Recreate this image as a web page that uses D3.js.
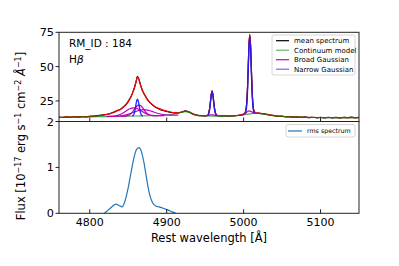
<!DOCTYPE html>
<html>
<head>
<meta charset="utf-8">
<script src="https://cdn.jsdelivr.net/npm/d3@7"></script>
<style>
  body { margin: 0; background: #fff; }
  svg { display: block; font-family: "DejaVu Sans", sans-serif; }
</style>
</head>
<body>
<div id="chart"></div>
<script>
// wavelength ticks and y ticks
const xTicks = [4800, 4900, 5000, 5100];
const topYTicks = [25, 50, 75];
const bottomYTicks = [0, 1, 2];

// [rest wavelength, flux]
const meanSpectrum = [
  [4760,13.3],[4765,12.9],[4770,13.4],[4775,13.1],[4780,13.5],[4785,13.2],[4790,13.6],[4795,13.4],
  [4800,13.8],[4805,13.9],[4810,14.3],[4815,14.6],[4820,15.0],[4825,15.6],[4830,16.6],[4835,17.8],
  [4840,19.0],[4844,20.8],[4848,23.0],[4851,25.6],[4854,28.6],[4856,31.4],[4858,34.6],[4860,38.6],
  [4862,42.9],[4864,40.5],[4866,36.5],[4868,33.2],[4870,30.8],[4873,27.8],[4876,25.2],[4880,22.8],
  [4885,20.6],[4890,19.2],[4895,18.1],[4900,17.4],[4905,16.7],[4910,16.2],[4915,16.3],[4920,16.9],
  [4924,17.7],[4928,17.2],[4932,16.0],[4936,15.0],[4940,14.5],[4945,14.2],[4950,14.1],[4953,14.4],
  [4955,17.0],[4956,20.3],[4957,25.1],[4958,29.9],[4959,32.3],[4960,29.9],[4961,25.1],[4962,20.3],
  [4963,17.0],[4964,15.4],[4966,14.4],[4970,14.0],[4975,14.2],[4980,13.9],[4985,14.1],[4990,14.3],
  [4995,14.6],[4999,15.2],[5001,15.8],[5002,16.4],[5003,18.6],[5004,23.3],[5005,33.5],[5006,49.6],
  [5007,66.3],[5008,73.4],[5009,66.2],[5010,49.5],[5011,33.4],[5012,23.2],[5013,18.6],[5014,17.2],
  [5016,16.2],[5020,16.1],[5025,15.7],[5030,15.2],[5035,14.5],[5040,14.3],[5045,13.8],[5050,13.9],
  [5055,13.4],[5060,13.6],[5065,13.2],[5070,13.4],[5075,13.0],[5080,13.3],[5085,12.8],[5090,13.1],
  [5095,12.7],[5100,13.0],[5105,12.6],[5110,13.1],[5115,12.7],[5120,13.0],[5125,12.6],[5130,13.1],
  [5135,12.8],[5140,13.2],[5145,12.7],[5150,13.0]
];

const totalModel = [
  [4760,13.1],[4780,13.3],[4800,13.7],[4810,14.2],[4820,14.9],[4825,15.5],[4830,16.4],[4835,17.6],
  [4840,18.9],[4844,20.6],[4848,22.8],[4851,25.4],[4854,28.5],[4856,31.2],[4858,34.4],[4860,38.4],
  [4862,42.3],[4864,40.6],[4866,36.6],[4868,33.3],[4870,30.8],[4873,27.9],[4876,25.3],[4880,22.9],
  [4885,20.8],[4890,19.4],[4895,18.3],[4900,17.6],[4905,16.9],[4910,16.4],[4915,16.4],[4920,16.9],
  [4924,17.6],[4928,17.1],[4932,16.0],[4936,15.0],[4940,14.5],[4945,14.2],[4950,14.1],[4953,14.4],
  [4955,17.0],[4956,20.3],[4957,25.1],[4958,29.9],[4959,32.3],[4960,29.9],[4961,25.1],[4962,20.3],
  [4963,17.0],[4964,15.4],[4966,14.4],[4970,14.1],[4980,14.0],[4990,14.3],[4995,14.6],[4999,15.2],
  [5001,15.8],[5002,16.4],[5003,18.6],[5004,23.3],[5005,33.5],[5006,49.6],[5007,66.3],[5008,73.5],
  [5009,66.2],[5010,49.5],[5011,33.4],[5012,23.2],[5013,18.6],[5014,17.2],[5016,16.2],[5020,16.0],
  [5025,15.7],[5030,15.2],[5040,14.3],[5050,13.7],[5060,13.4],[5080,13.1],[5100,12.9],[5120,12.8],
  [5150,12.8]
];

const continuumModel = [
  [4760,13.0],[4780,13.2],[4800,13.4],[4820,13.6],[4840,13.8],[4860,14.0],[4880,14.2],[4895,14.5],
  [4905,15.0],[4912,15.8],[4918,16.6],[4924,17.2],[4930,16.6],[4936,15.3],[4942,14.4],[4950,14.0],
  [4965,13.9],[4980,13.9],[4992,14.2],[5000,14.8],[5008,15.6],[5016,16.0],[5024,15.6],[5032,14.8],
  [5042,14.0],[5055,13.5],[5070,13.2],[5090,12.9],[5110,12.8],[5130,12.7],[5150,12.8]
];

const broadGaussian1 = [
  [4840,13.85],[4846,13.95],[4849,14.3],[4852,15.0],[4855,16.6],[4858,18.9],[4861,21.1],[4864,22.0],
  [4867,21.1],[4870,18.95],[4873,16.75],[4876,15.25],[4879,14.55],[4882,14.3],[4888,14.25]
];
const broadGaussian2 = [
  [4822,13.6],[4827,13.7],[4832,14.0],[4837,14.6],[4842,15.8],[4847,17.55],[4852,19.25],[4857,20.0],
  [4862,19.3],[4867,17.7],[4872,16.05],[4877,14.95],[4882,14.45],[4887,14.3],[4897,14.3]
];
const broadGaussian3 = [
  [4825,13.7],[4831,13.8],[4837.5,13.95],[4844,14.45],[4850.5,15.35],[4857,16.7],[4863.5,18.0],[4870,18.6],
  [4876.5,18.1],[4883,16.95],[4889.5,15.8],[4896,15.0],[4902.5,14.7],[4909,14.6],[4915,14.6]
];
const broadOIII4959 = [
  [4950,14.1],[4952,14.2],[4954,14.5],[4956,14.8],[4958,14.9],[4960,14.8],[4962,14.5],[4964,14.2],[4966,14.1]
];
const broadOIII5007 = [
  [4997,14.6],[5000,15.1],[5002,15.8],[5004,16.8],[5006,17.5],[5007,17.7],[5008,17.6],[5010,17.2],
  [5012,16.5],[5014,16.2],[5017,16.0]
];

const narrowHbeta = [
  [4855,14.05],[4856,14.3],[4857,14.9],[4858,16.3],[4859,18.8],[4860,22.1],[4861,25.0],[4862,26.2],
  [4863,25.0],[4864,22.1],[4865,18.8],[4866,16.3],[4867,14.9],[4868,14.3],[4869,14.05]
];
const narrowOIII4959 = [
  [4953,14.2],[4954,14.9],[4955,16.5],[4956,19.8],[4957,24.6],[4958,29.4],[4959,31.6],[4960,29.4],
  [4961,24.6],[4962,19.8],[4963,16.5],[4964,14.9],[4965,14.2]
];
const narrowOIII5007 = [
  [5002,16.0],[5003,17.4],[5004,21.7],[5005,31.7],[5006,47.7],[5007,64.3],[5008,71.5],[5009,64.3],
  [5010,47.7],[5011,31.7],[5012,21.7],[5013,17.4],[5014,16.0]
];

const rmsSpectrum = [
  [4819,0],[4826,0.1],[4834,0.2],[4838,0.17],[4842,0.14],[4846,0.28],[4850,0.56],[4854,0.92],
  [4858,1.25],[4861,1.4],[4864,1.43],[4867,1.35],[4870,1.14],[4873,0.85],[4876,0.55],[4879,0.34],
  [4882,0.22],[4886,0.16],[4892,0.13],[4897,0.1],[4902,0.07],[4907,0.03],[4912,0]
];

const W = 399, H = 266;
const left = 59, right = 359;
const topY0 = 32.3, split = 121.5, bottomY1 = 213.3;
const frameColor = "#222";

const svg = d3.select("#chart").append("svg")
  .attr("width", W)
  .attr("height", H);

const x = d3.scaleLinear().domain([4760, 5150]).range([left, right]);
const yTop = d3.scaleLinear().domain([10, 75]).range([split, topY0]);
const yBot = d3.scaleLinear().domain([0, 2]).range([bottomY1, split]);

const defs = svg.append("defs");
defs.append("clipPath").attr("id", "clipTop").append("rect")
  .attr("x", left).attr("y", topY0).attr("width", right - left).attr("height", split - topY0);
defs.append("clipPath").attr("id", "clipBot").append("rect")
  .attr("x", left).attr("y", split).attr("width", right - left).attr("height", bottomY1 - split);

function lineFor(y) {
  return d3.line().x(d => x(d[0])).y(d => y(d[1])).curve(d3.curveMonotoneX);
}
const topLine = lineFor(yTop);
const botLine = lineFor(yBot);

// top panel curves
const gTop = svg.append("g").attr("clip-path", "url(#clipTop)");
function drawTop(data, color, opacity, sw) {
  gTop.append("path")
    .attr("d", topLine(data))
    .attr("fill", "none")
    .attr("stroke", color)
    .attr("stroke-opacity", opacity)
    .attr("stroke-width", sw || 1.2);
}
drawTop(meanSpectrum, "#000", 1);
drawTop(totalModel, "#ff0000", 1);
drawTop(continuumModel, "#008000", 0.7);
[broadGaussian1, broadGaussian2, broadGaussian3, broadOIII4959, broadOIII5007]
  .forEach(d => drawTop(d, "#bf00bf", 1));
[narrowHbeta, narrowOIII4959, narrowOIII5007]
  .forEach(d => drawTop(d, "#1a1aff", 0.92, 1.4));

// bottom panel
const gBot = svg.append("g").attr("clip-path", "url(#clipBot)");
gBot.append("path")
  .attr("d", botLine(rmsSpectrum))
  .attr("fill", "none")
  .attr("stroke", "#1f77b4")
  .attr("stroke-width", 1.2);

// frames
[[topY0, split], [split, bottomY1]].forEach(([a, b]) => {
  svg.append("rect")
    .attr("x", left).attr("y", a)
    .attr("width", right - left).attr("height", b - a)
    .attr("fill", "none")
    .attr("stroke", frameColor)
    .attr("stroke-width", 1);
});

// x ticks (inward) on both panels
[split, bottomY1].forEach(yb => {
  svg.append("g").selectAll("line")
    .data(xTicks).enter().append("line")
    .attr("x1", d => x(d)).attr("x2", d => x(d))
    .attr("y1", yb).attr("y2", yb - 4)
    .attr("stroke", frameColor);
});
svg.append("g").selectAll("text")
  .data(xTicks).enter().append("text")
  .attr("x", d => x(d))
  .attr("y", bottomY1 + 13)
  .attr("text-anchor", "middle")
  .attr("font-size", 11)
  .text(d => d);

// y ticks (outward)
function yAxis(scale, ticks) {
  const g = svg.append("g");
  g.selectAll("line").data(ticks).enter().append("line")
    .attr("x1", left - 3.5).attr("x2", left)
    .attr("y1", d => scale(d)).attr("y2", d => scale(d))
    .attr("stroke", frameColor);
  g.selectAll("text").data(ticks).enter().append("text")
    .attr("x", left - 5)
    .attr("y", d => scale(d))
    .attr("dy", "0.36em")
    .attr("text-anchor", "end")
    .attr("font-size", 11.3)
    .text(d => d);
}
yAxis(yTop, topYTicks);
yAxis(yBot, bottomYTicks);

// annotations
svg.append("text").attr("x", 69).attr("y", 47).attr("font-size", 10.5).text("RM_ID : 184");
const hb = svg.append("text").attr("x", 69).attr("y", 63).attr("font-size", 10.5);
hb.append("tspan").text("H");
hb.append("tspan").attr("font-style", "italic").text("β");

// axis labels
svg.append("text")
  .attr("x", (left + right) / 2)
  .attr("y", 241.5)
  .attr("text-anchor", "middle")
  .attr("font-size", 11.5)
  .text("Rest wavelength [Å]");

const yl = svg.append("text")
  .attr("transform", "translate(25,136) rotate(-90)")
  .attr("text-anchor", "middle")
  .attr("font-size", 11.5);
yl.append("tspan").text("Flux [10");
yl.append("tspan").attr("font-size", 8).attr("dy", -4.5).text("−17");
yl.append("tspan").attr("dy", 4.5).text(" erg s");
yl.append("tspan").attr("font-size", 8).attr("dy", -4.5).text("−1");
yl.append("tspan").attr("dy", 4.5).text(" cm");
yl.append("tspan").attr("font-size", 8).attr("dy", -4.5).text("−2");
yl.append("tspan").attr("dy", 4.5).attr("font-style", "italic").text(" Å");
yl.append("tspan").attr("font-size", 8).attr("dy", -4.5).text("−1");
yl.append("tspan").attr("dy", 4.5).text("]");

// legends
const topLegend = [
  { label: "mean spectrum", color: "#000", op: 1 },
  { label: "Continuum model", color: "#008000", op: 0.6 },
  { label: "Broad Gaussian", color: "#bf00bf", op: 1 },
  { label: "Narrow Gaussian", color: "#0000ff", op: 0.6 }
];
svg.append("rect")
  .attr("x", 272).attr("y", 35).attr("width", 83).attr("height", 40)
  .attr("rx", 2).attr("fill", "#fff").attr("fill-opacity", 0.8)
  .attr("stroke", "#ccc").attr("stroke-width", 0.8);
topLegend.forEach((d, i) => {
  const yy = 40.7 + i * 9.5;
  svg.append("line")
    .attr("x1", 276).attr("x2", 289).attr("y1", yy).attr("y2", yy)
    .attr("stroke", d.color).attr("stroke-opacity", d.op).attr("stroke-width", 1.2);
  svg.append("text")
    .attr("x", 294).attr("y", yy).attr("dy", "0.36em")
    .attr("font-size", 7).text(d.label);
});

svg.append("rect")
  .attr("x", 286).attr("y", 124.5).attr("width", 69).attr("height", 12.5)
  .attr("rx", 2).attr("fill", "#fff").attr("fill-opacity", 0.8)
  .attr("stroke", "#ccc").attr("stroke-width", 0.8);
svg.append("line")
  .attr("x1", 288).attr("x2", 302).attr("y1", 131).attr("y2", 131)
  .attr("stroke", "#1f77b4").attr("stroke-width", 1.2);
svg.append("text")
  .attr("x", 307).attr("y", 131).attr("dy", "0.36em")
  .attr("font-size", 6.3).text("rms spectrum");
</script>
</body>
</html>
